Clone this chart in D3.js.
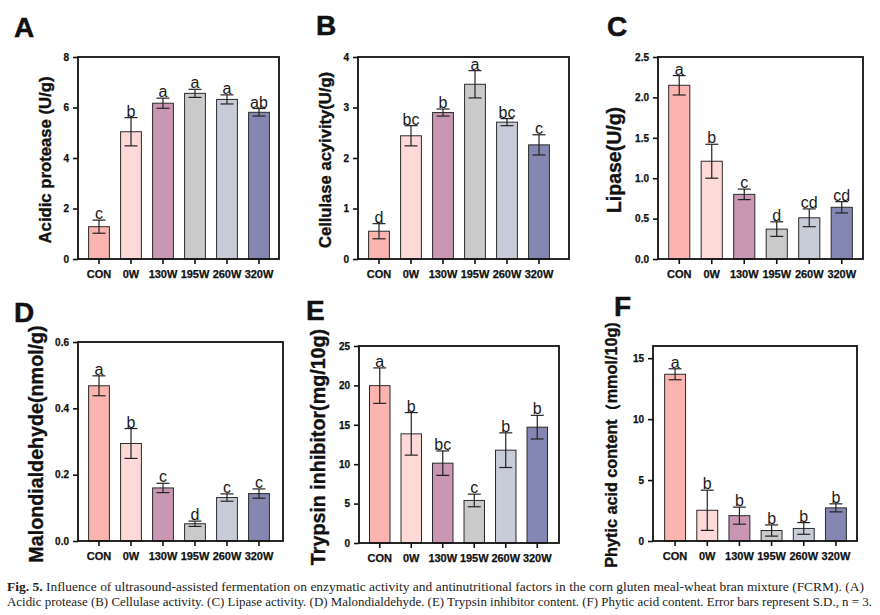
<!DOCTYPE html>
<html>
<head>
<meta charset="utf-8">
<script src="https://cdn.jsdelivr.net/npm/d3@7"></script>
<style>
  body { margin: 0; background: #fff; }
  svg { display: block; }
</style>
</head>
<body>
<svg id="fig" width="880" height="615"></svg>
<script>
var groups = ["CON", "0W", "130W", "195W", "260W", "320W"]
var barColors = ["#fbb4af", "#fdd9d8", "#c996b3", "#cacaca", "#c8ccd9", "#8487b2"]

// A acidic protease
var proteaseMean = [1.28, 5.04, 6.17, 6.56, 6.32, 5.81]
var proteaseSD = [0.26, 0.56, 0.2, 0.16, 0.18, 0.15]
var proteaseSig = ["c", "b", "a", "a", "a", "ab"]
// B cellulase
var cellulaseMean = [0.55, 2.44, 2.9, 3.46, 2.71, 2.26]
var cellulaseSD = [0.15, 0.2, 0.07, 0.27, 0.07, 0.2]
var cellulaseSig = ["d", "bc", "b", "a", "bc", "c"]
// C lipase
var lipaseMean = [2.15, 1.21, 0.8, 0.37, 0.51, 0.64]
var lipaseSD = [0.12, 0.21, 0.065, 0.09, 0.11, 0.07]
var lipaseSig = ["a", "b", "c", "d", "cd", "cd"]
// D malondialdehyde
var mdaMean = [0.468, 0.294, 0.16, 0.052, 0.131, 0.143]
var mdaSD = [0.03, 0.045, 0.014, 0.008, 0.011, 0.014]
var mdaSig = ["a", "b", "c", "d", "c", "c"]
// E trypsin inhibitor
var trypsinMean = [19.97, 13.85, 10.13, 5.4, 11.78, 14.7]
var trypsinSD = [2.25, 2.7, 1.55, 0.8, 2.2, 1.5]
var trypsinSig = ["a", "b", "bc", "c", "b", "b"]
// F phytic acid
var phyticMean = [13.68, 2.52, 2.08, 0.86, 1.03, 2.72]
var phyticSD = [0.45, 1.65, 0.7, 0.46, 0.48, 0.33]
var phyticSig = ["a", "b", "b", "b", "b", "b"]

var panels = [
  { letter: "A", lx: 14, ly: 37, title: "Acidic protease (U/g)", tx: 47, ty: 160, tfs: 16.7,
    mean: proteaseMean, sd: proteaseSD, sig: proteaseSig,
    left: 78, right: 279, top: 57, bottom: 259, xr: [83, 275], max: 8, ticks: [0, 2, 4, 6, 8], fmt: "d" },
  { letter: "B", lx: 316, ly: 35, title: "Cellulase acyivity(U/g)", tx: 327, ty: 160, tfs: 16.6,
    mean: cellulaseMean, sd: cellulaseSD, sig: cellulaseSig,
    left: 358, right: 569, top: 57, bottom: 259, xr: [363, 555], max: 4, ticks: [0, 1, 2, 3, 4], fmt: "d" },
  { letter: "C", lx: 607, ly: 36, title: "Lipase(U/g)", tx: 616, ty: 160, tfs: 19.5,
    mean: lipaseMean, sd: lipaseSD, sig: lipaseSig,
    left: 658, right: 863, top: 57, bottom: 259, xr: [663, 858], max: 2.5, ticks: [0, 0.5, 1, 1.5, 2, 2.5], fmt: ".1f" },
  { letter: "D", lx: 14, ly: 322, title: "Malondialdehyde(nmol/g)", tx: 38, ty: 444, tfs: 19.7,
    mean: mdaMean, sd: mdaSD, sig: mdaSig,
    left: 78, right: 283, top: 342, bottom: 541, xr: [83, 275], max: 0.6, ticks: [0, 0.2, 0.4, 0.6], fmt: ".1f" },
  { letter: "E", lx: 306, ly: 320, title: "Trypsin inhibitor(mg/10g)", tx: 320, ty: 447, tfs: 19.7,
    mean: trypsinMean, sd: trypsinSD, sig: trypsinSig,
    left: 359, right: 559, top: 346, bottom: 543, xr: [364, 553], max: 25, ticks: [0, 5, 10, 15, 20, 25], fmt: "d" },
  { letter: "F", lx: 614, ly: 316, title: "Phytic acid content\uFF08mmol/10g)", tx: 613, ty: 445, tfs: 16.2,
    mean: phyticMean, sd: phyticSD, sig: phyticSig,
    left: 653, right: 857, top: 346, bottom: 541, xr: [659, 852], max: 16, ticks: [0, 5, 10, 15], fmt: "d" }
]

var svg = d3.select("#fig")
var sans = "'Liberation Sans', Arial, sans-serif"

panels.forEach(function (p) {
  var g = svg.append("g")

  var xScale = d3.scaleBand()
    .domain(groups)
    .range(p.xr)
    .paddingInner(0.35)
    .paddingOuter(0.175)

  var yScale = d3.scaleLinear()
    .domain([0, p.max])
    .range([p.bottom, p.top])

  var rows = groups.map(function (d, i) {
    return { group: d, mean: p.mean[i], sd: p.sd[i], sig: p.sig[i], color: barColors[i] }
  })
  var cx = d => xScale(d.group) + xScale.bandwidth() / 2

  // bars
  g.selectAll("rect.bar")
    .data(rows)
    .enter().append("rect")
    .attr("class", "bar")
    .attr("x", d => xScale(d.group))
    .attr("width", xScale.bandwidth())
    .attr("y", d => yScale(d.mean))
    .attr("height", d => p.bottom - yScale(d.mean))
    .attr("fill", d => d.color)
    .attr("stroke", "#2b2b2b")
    .attr("stroke-width", 1)

  // error bars
  var eb = g.selectAll("g.err")
    .data(rows)
    .enter().append("g")
    .attr("stroke", "#222")
    .attr("stroke-width", 1.2)
  eb.append("line")
    .attr("x1", cx)
    .attr("x2", cx)
    .attr("y1", d => yScale(d.mean + d.sd))
    .attr("y2", d => yScale(Math.max(0, d.mean - d.sd)))
  eb.append("line")
    .attr("x1", d => cx(d) - 6.5)
    .attr("x2", d => cx(d) + 6.5)
    .attr("y1", d => yScale(d.mean + d.sd))
    .attr("y2", d => yScale(d.mean + d.sd))
  eb.append("line")
    .attr("x1", d => cx(d) - 6.5)
    .attr("x2", d => cx(d) + 6.5)
    .attr("y1", d => yScale(Math.max(0, d.mean - d.sd)))
    .attr("y2", d => yScale(Math.max(0, d.mean - d.sd)))

  // significance letters
  g.selectAll("text.sig")
    .data(rows)
    .enter().append("text")
    .attr("x", cx)
    .attr("y", d => yScale(d.mean + d.sd) - 1)
    .attr("text-anchor", "middle")
    .style("font-family", sans)
    .style("font-size", "16px")
    .style("fill", "#1a1a1a")
    .text(d => d.sig)

  // axes
  var yAxisGen = d3.axisLeft(yScale)
    .tickValues(p.ticks)
    .tickFormat(d3.format(p.fmt))
    .tickSize(5)
    .tickPadding(4)
  var yAxis = g.append("g")
    .attr("transform", `translate(${p.left},0)`)
    .call(yAxisGen)

  var xAxisGen = d3.axisBottom(xScale)
    .tickSize(5)
    .tickPadding(6)
  var xAxis = g.append("g")
    .attr("transform", `translate(0,${p.bottom})`)
    .call(xAxisGen)

  ;[yAxis, xAxis].forEach(function (a) {
    a.select(".domain").remove()
    a.selectAll(".tick line").attr("stroke", "#111").attr("stroke-width", 1.6)
    a.selectAll(".tick text")
      .style("font-family", sans)
      .style("font-weight", "bold")
      .style("fill", "#111")
      .style("stroke", "#111")
      .style("stroke-width", 0.25)
  })
  yAxis.selectAll(".tick text").style("font-size", "10px")
  xAxis.selectAll(".tick text").style("font-size", "11px")

  // frame
  g.append("rect")
    .attr("x", p.left)
    .attr("y", p.top)
    .attr("width", p.right - p.left)
    .attr("height", p.bottom - p.top)
    .attr("fill", "none")
    .attr("stroke", "#111")
    .attr("stroke-width", 1.8)

  // y title, centred on (tx, ty)
  g.append("text")
    .attr("transform", `translate(${p.tx + 0.25 * p.tfs},${p.ty}) rotate(-90)`)
    .attr("text-anchor", "middle")
    .style("font-family", sans)
    .style("font-weight", "bold")
    .style("font-size", p.tfs + "px")
    .style("fill", "#111")
    .style("stroke", "#111")
    .style("stroke-width", 0.35)
    .text(p.title)

  // panel letter
  g.append("text")
    .attr("x", p.lx)
    .attr("y", p.ly)
    .style("font-family", sans)
    .style("font-weight", "bold")
    .style("font-size", "28px")
    .style("fill", "#111")
    .style("stroke", "#111")
    .style("stroke-width", 0.5)
    .text(p.letter)
})

// caption, two justified lines
var captionLines = [
  { bold: "Fig. 5.", rest: " Influence of ultrasound-assisted fermentation on enzymatic activity and antinutritional factors in the corn gluten meal-wheat bran mixture (FCRM). (A)", end: 864 },
  { bold: "", rest: "Acidic protease (B) Cellulase activity. (C) Lipase activity. (D) Malondialdehyde. (E) Trypsin inhibitor content. (F) Phytic acid content. Error bars represent S.D., n = 3.", end: 872 }
]
var cap = svg.selectAll("text.cap")
  .data(captionLines)
  .enter().append("text")
  .attr("class", "cap")
  .attr("x", 7)
  .attr("y", (d, i) => 591 + i * 15)
  .attr("textLength", d => d.end - 7)
  .attr("lengthAdjust", "spacingAndGlyphs")
  .style("font-family", "'Liberation Serif', 'Times New Roman', serif")
  .style("font-size", "12px")
  .style("fill", "#222")
cap.append("tspan").style("font-weight", "bold").text(d => d.bold)
cap.append("tspan").text(d => d.rest)
</script>
</body>
</html>
